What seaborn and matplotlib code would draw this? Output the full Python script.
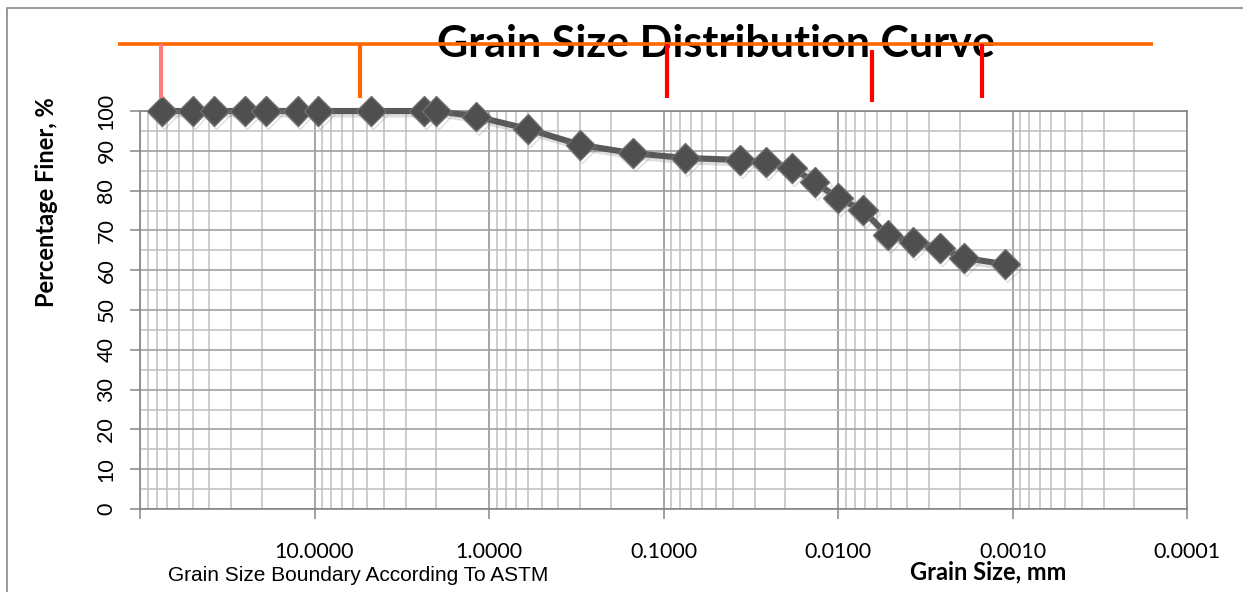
import numpy as np
import pandas as pd
import matplotlib
matplotlib.use("Agg")
import matplotlib.pyplot as plt
import matplotlib.ticker as mticker
import matplotlib.transforms as mtransforms
import matplotlib.patheffects as pe
from matplotlib.patches import Rectangle
import seaborn as sns

# sieve + hydrometer results
grain_size_mm = [75, 50, 37.5, 25, 19, 12.5, 9.5, 4.75, 2.36, 2.0, 1.18, 0.6, 0.3,
                 0.15, 0.075, 0.0365, 0.0259, 0.0184, 0.0136, 0.0100, 0.0072,
                 0.0052, 0.0037, 0.0026, 0.0019, 0.0011]
percent_finer = [100, 100, 100, 100, 100, 100, 100, 100, 100, 100, 98.6, 95.5, 91.5,
                 89.4, 88.2, 87.7, 87.2, 85.7, 82.2, 78.1, 75.1,
                 68.8, 67.1, 65.6, 63.1, 61.5]

# ASTM boundary markers drawn above the plot
astm_bounds = [76, 5.5, 0.095, 0.0064, 0.0015]
astm_colors = ["#FF7C80", "#FF6600", "#FF0000", "#FF0000", "#FF0000"]

x_ticks = [100, 10, 1, 0.1, 0.01, 0.001, 0.0001]
x_tick_labels = ["", "10.0000", "1.0000", "0.1000", "0.0100", "0.0010", "0.0001"]
y_ticks = list(range(0, 101, 10))

data = pd.DataFrame({"size": grain_size_mm, "finer": percent_finer})

sns.set_theme(style="white")
plt.rcParams["font.family"] = ["Lato", "DejaVu Sans"]
plt.rcParams["text.color"] = "black"

fig = plt.figure(figsize=(12.43, 5.92), dpi=100)
ax = fig.add_axes([140 / 1243, 1 - 509 / 592, 1047 / 1243, 398 / 592])

sns.lineplot(data=data, x="size", y="finer", ax=ax, estimator=None, sort=False,
             color="#595959", linewidth=4.4, marker="D", markersize=15,
             markerfacecolor="#4F4F4F", markeredgecolor="#6E6E6E",
             markeredgewidth=1, zorder=4, clip_on=False,
             path_effects=[pe.SimpleLineShadow(offset=(1.5, -2.5), shadow_color="#7F7F7F",
                                               alpha=0.25),
                           pe.Normal()])

ax.set_xscale("log")
ax.set_xlim(100, 0.0001)
ax.set_ylim(0, 100)
ax.set_xticks(x_ticks)
ax.set_xticklabels(x_tick_labels)
ax.xaxis.set_minor_locator(mticker.LogLocator(base=10, subs=np.arange(2, 10)))
ax.xaxis.set_minor_formatter(mticker.NullFormatter())
ax.set_yticks(y_ticks)
ax.set_yticklabels([str(v) for v in y_ticks], rotation=90, va="center")
ax.yaxis.set_minor_locator(mticker.MultipleLocator(5))

ax.tick_params(axis="both", which="major", direction="out", length=7, width=1.1,
               color="#868686", labelsize=15.5, labelcolor="black",
               bottom=True, left=True)
ax.tick_params(axis="x", which="major", pad=17)
ax.tick_params(axis="y", which="major", pad=10)
ax.tick_params(axis="both", which="minor", length=0)

ax.grid(which="major", axis="x", color="#8C8C8C", linewidth=1.1)
ax.grid(which="major", axis="y", color="#A0A0A0", linewidth=1.2)
ax.grid(which="minor", axis="both", color="#BFBFBF", linewidth=1.1)
ax.set_axisbelow(True)
for sp in ax.spines.values():
    sp.set_color("#868686")
    sp.set_linewidth(1.2)

ax.set_xlabel("")
ax.set_ylabel("")

# title and labels
ax.text(0.550, 1.136, "Grain Size Distribution Curve", transform=ax.transAxes,
        ha="center", va="baseline", fontsize=31, fontweight="bold",
        color="black", zorder=3)
ax.text(-0.0889, 0.771, "Percentage Finer, %", transform=ax.transAxes,
        rotation=90, ha="center", va="center", fontsize=17, fontweight="bold",
        color="black")
ax.text(0.208, -0.166, "Grain Size Boundary According To ASTM", transform=ax.transAxes,
        ha="center", va="center", fontsize=15, color="black",
        family=["Liberation Sans", "DejaVu Sans"])
ax.text(0.810, -0.158, "Grain Size, mm", transform=ax.transAxes,
        ha="center", va="center", fontsize=17, fontweight="bold", color="black")

# ASTM boundary bracket
ax.plot([-0.021, 0.9675], [1.168, 1.168], transform=ax.transAxes, color="#FF6600",
        linewidth=2.6, clip_on=False, zorder=5, solid_capstyle="butt")
blend = mtransforms.blended_transform_factory(ax.transData, ax.transAxes)
for i, (b, c) in enumerate(zip(astm_bounds, astm_colors)):
    top, bottom = (1.153, 1.023) if i == 3 else (1.168, 1.033)
    ax.plot([b, b], [top, bottom], transform=blend, color=c, linewidth=3,
            clip_on=False, zorder=5, solid_capstyle="butt")

# outer chart border
fig.patches.append(Rectangle((7 / 1243, -0.1), 2, 1 - 8 / 592 + 0.1,
                             transform=fig.transFigure, fill=False,
                             edgecolor="#898989", linewidth=1.2))

plt.savefig("out.png", dpi=100)
plt.close()
